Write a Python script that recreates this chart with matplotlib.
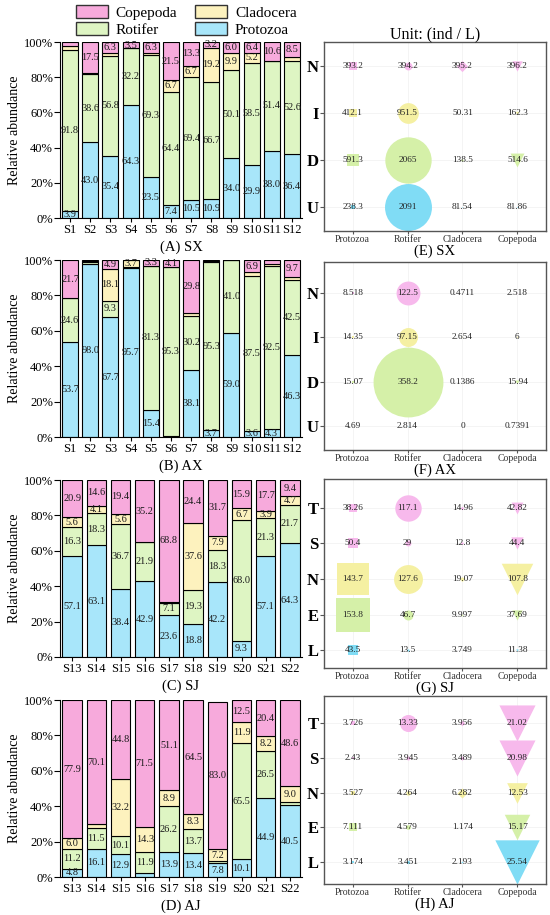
import numpy as np
import matplotlib
matplotlib.use('Agg')
import matplotlib.pyplot as plt
from matplotlib.patches import Patch

plt.rcParams['font.family'] = ['Liberation Serif', 'DejaVu Serif']

### DATA ###
# relative abundance (%), stacked bottom -> top: Protozoa, Rotifer, Cladocera, Copepoda
sites_sx = ['S1', 'S2', 'S3', 'S4', 'S5', 'S6', 'S7', 'S8', 'S9', 'S10', 'S11', 'S12']
sx_prot = [3.9, 43.0, 35.4, 64.3, 23.5, 7.4, 10.5, 10.9, 34.0, 29.9, 38.0, 36.4]
sx_rot = [91.8, 38.6, 56.8, 32.2, 69.3, 64.4, 69.4, 66.7, 50.1, 58.5, 51.4, 52.6]
sx_clad = [2.0, 0.9, 1.5, 0.0, 0.9, 6.7, 6.7, 19.2, 9.9, 5.2, 0.0, 2.5]
sx_cope = [2.3, 17.5, 6.3, 3.5, 6.3, 21.5, 13.3, 3.2, 6.0, 6.4, 10.6, 8.5]

sites_ax = ['S1', 'S2', 'S3', 'S4', 'S5', 'S6', 'S7', 'S8', 'S9', 'S10', 'S11', 'S12']
ax_prot = [53.7, 98.0, 67.7, 95.7, 15.4, 0.6, 38.1, 3.7, 59.0, 3.6, 4.3, 46.3]
ax_rot = [24.6, 1.0, 9.3, 0.6, 81.3, 95.3, 30.2, 95.3, 41.0, 87.5, 92.5, 42.5]
ax_clad = [0.0, 0.2, 18.1, 3.7, 0.0, 0.0, 1.9, 0.3, 0.0, 2.0, 1.0, 1.5]
ax_cope = [21.7, 0.8, 4.9, 0.0, 3.3, 4.1, 29.8, 0.7, 0.0, 6.9, 2.2, 9.7]

sites_sj = ['S13', 'S14', 'S15', 'S16', 'S17', 'S18', 'S19', 'S20', 'S21', 'S22']
sj_prot = [57.1, 63.1, 38.4, 42.9, 23.6, 18.8, 42.2, 9.3, 57.1, 64.3]
sj_rot = [16.3, 18.3, 36.7, 21.9, 7.1, 19.3, 18.3, 68.0, 21.3, 21.7]
sj_clad = [5.6, 4.1, 5.6, 0.0, 0.5, 37.6, 7.9, 6.7, 3.9, 4.7]
sj_cope = [20.9, 14.6, 19.4, 35.2, 68.8, 24.4, 31.7, 15.9, 17.7, 9.4]

sites_aj = ['S13', 'S14', 'S15', 'S16', 'S17', 'S18', 'S19', 'S20', 'S21', 'S22']
aj_prot = [4.8, 16.1, 12.9, 2.3, 13.9, 13.4, 7.8, 10.1, 44.9, 40.5]
aj_rot = [11.2, 11.5, 10.1, 11.9, 26.2, 13.7, 1.0, 65.5, 26.5, 1.9]
aj_clad = [6.0, 2.3, 32.2, 14.3, 8.9, 8.3, 7.2, 11.9, 8.2, 9.0]
aj_cope = [77.9, 70.1, 44.8, 71.5, 51.1, 64.5, 83.0, 12.5, 20.4, 48.6]

# density (ind / L), rows top -> bottom, columns Protozoa, Rotifer, Cladocera, Copepoda
groups = ['Protozoa', 'Rotifer', 'Cladocera', 'Copepoda']
rows_sx = ['N', 'I', 'D', 'U']
dens_sx = [[393.2, 394.2, 395.2, 396.2],
           [412.1, 951.5, 50.31, 162.3],
           [591.3, 2065, 138.5, 514.6],
           [238.3, 2091, 81.54, 81.86]]
rows_ax = ['N', 'I', 'D', 'U']
dens_ax = [[8.518, 122.5, 0.4711, 2.518],
           [14.35, 97.15, 2.654, 6],
           [15.07, 358.2, 0.1386, 15.94],
           [4.69, 2.814, 0, 0.7391]]
rows_sj = ['T', 'S', 'N', 'E', 'L']
dens_sj = [[38.26, 117.1, 14.96, 42.82],
           [50.4, 29, 12.8, 44.4],
           [143.7, 127.6, 19.07, 107.8],
           [153.8, 46.7, 9.997, 37.69],
           [43.5, 13.5, 3.749, 11.38]]
rows_aj = ['T', 'S', 'N', 'E', 'L']
dens_aj = [[3.726, 13.33, 3.956, 21.02],
           [2.43, 3.945, 3.489, 20.98],
           [3.527, 4.264, 6.282, 12.53],
           [7.111, 4.579, 1.174, 15.17],
           [3.174, 3.451, 2.193, 25.54]]

# colours
c_prot, c_rot, c_clad, c_cope = '#A8E6FA', '#DEF5C3', '#FDF2BE', '#F7AADC'
b_pink, b_yel, b_green, b_blue = '#F7B9EC', '#F5F0A2', '#D5F0A8', '#80DCF5'
shapes = ['s', 'o', 'D', 'v']
shape_fac = [1.0, 1.0, 1.0, 1.3]

fig = plt.figure(figsize=(5.5, 9.15), dpi=100)


def draw_bars(rect, sites, prot, rot, clad, cope, title):
    ax = fig.add_axes(rect)
    x = np.arange(len(sites))
    bottom = np.zeros(len(sites))
    for vals, col in [(prot, c_prot), (rot, c_rot), (clad, c_clad), (cope, c_cope)]:
        vals = np.array(vals)
        ax.bar(x, vals, 0.8, bottom=bottom, color=col, edgecolor='black', linewidth=0.8)
        for xi, b, v in zip(x, bottom, vals):
            if v >= 3.0:
                ax.text(xi, b + v / 2, '%.1f' % v, ha='center', va='center',
                        fontsize=7.4, color='#1a1a1a')
        bottom = bottom + vals
    ax.set_xlim(-0.5, len(sites) - 0.5)
    ax.set_ylim(0, 100)
    ax.set_yticks([0, 20, 40, 60, 80, 100])
    ax.set_yticklabels(['%d%%' % t for t in [0, 20, 40, 60, 80, 100]], fontsize=9)
    ax.set_xticks(x)
    ax.set_xticklabels(sites, fontsize=9)
    ax.tick_params(axis='x', pad=1, length=3)
    ax.tick_params(axis='y', pad=1, length=4)
    ax.spines['top'].set_visible(False)
    ax.spines['right'].set_visible(False)
    ax.set_ylabel('Relative abundance', fontsize=10, labelpad=2)
    ax.text(0.5, -0.165, title, transform=ax.transAxes, ha='center', va='center', fontsize=10.5)
    return ax


def draw_bubbles(rect, rows, rowcols, dens, k, ylim, title):
    ax = fig.add_axes(rect)
    dens = np.array(dens, dtype=float)
    vmin = dens.min()
    n = len(rows)
    for i in range(n):
        y = n - i
        for j in range(4):
            v = dens[i, j]
            d = k * (v - vmin) * shape_fac[j]
            if d > 0:
                ax.scatter(j + 1, y, s=(d * 0.72) ** 2, marker=shapes[j], color=rowcols[i],
                           linewidths=0, zorder=2)
            ax.text(j + 1, y, '%.4g' % v, ha='center', va='center', fontsize=6.7,
                    color='#222222', zorder=3)
    ax.set_xlim(0.48, 4.52)
    ax.set_ylim(*ylim)
    ax.set_xticks([1, 2, 3, 4])
    ax.set_xticklabels(groups, fontsize=7, color='#333333')
    ax.set_yticks(np.arange(n, 0, -1))
    ax.set_yticklabels(rows, fontsize=12, fontweight='bold')
    ax.tick_params(axis='x', length=2, pad=1, color='#555555')
    ax.tick_params(axis='y', length=3, pad=1, color='#555555')
    ax.grid(True, color='#f2f2f2', linewidth=0.6, zorder=0)
    ax.set_axisbelow(True)
    for sp in ax.spines.values():
        sp.set_color('#555555')
        sp.set_linewidth(1.0)
    ax.text(0.5, -0.108, title, transform=ax.transAxes, ha='center', va='center', fontsize=10.5)
    return ax


bl, bw = 60 / 550, 242 / 550
draw_bars([bl, 0.7617, bw, 0.1923], sites_sx, sx_prot, sx_rot, sx_clad, sx_cope, '(A) SX')
draw_bars([bl, 0.5224, bw, 0.1934], sites_ax, ax_prot, ax_rot, ax_clad, ax_cope, '(B) AX')
draw_bars([bl, 0.2820, bw, 0.1934], sites_sj, sj_prot, sj_rot, sj_clad, sj_cope, '(C) SJ')
draw_bars([bl, 0.0415, bw, 0.1934], sites_aj, aj_prot, aj_rot, aj_clad, aj_cope, '(D) AJ')

rl, rw = 324 / 550, 222 / 550
axE = draw_bubbles([rl, 0.7475, rw, 0.2066], rows_sx, [b_pink, b_yel, b_green, b_blue],
                   dens_sx, 0.023, (0.5, 4.5), '(E) SX')
draw_bubbles([rl, 0.5082, rw, 0.2055], rows_ax, [b_pink, b_yel, b_green, b_blue],
             dens_ax, 0.195, (0.46, 4.7), '(F) AX')
draw_bubbles([rl, 0.2699, rw, 0.2066], rows_sj, [b_pink, b_pink, b_yel, b_green, b_blue],
             dens_sj, 0.233, (0.5, 5.8), '(G) SJ')
draw_bubbles([rl, 0.0339, rw, 0.2055], rows_aj, [b_pink, b_pink, b_yel, b_green, b_blue],
             dens_aj, 1.4, (0.37, 5.78), '(H) AJ')
axE.set_title('Unit: (ind / L)', fontsize=11.5, pad=1)

handles = [Patch(facecolor=c_cope, edgecolor='#333333', label='Copepoda'),
           Patch(facecolor=c_rot, edgecolor='#333333', label='Rotifer'),
           Patch(facecolor=c_clad, edgecolor='#333333', label='Cladocera'),
           Patch(facecolor=c_prot, edgecolor='#333333', label='Protozoa')]
fig.legend(handles=handles, ncol=2, loc='upper left', bbox_to_anchor=(0.118, 1.006),
           frameon=False, fontsize=11, handlelength=2.1, handleheight=0.95,
           columnspacing=1.2, labelspacing=0.12, handletextpad=0.5, borderpad=0.2)

fig.savefig('out.png', dpi=100)
